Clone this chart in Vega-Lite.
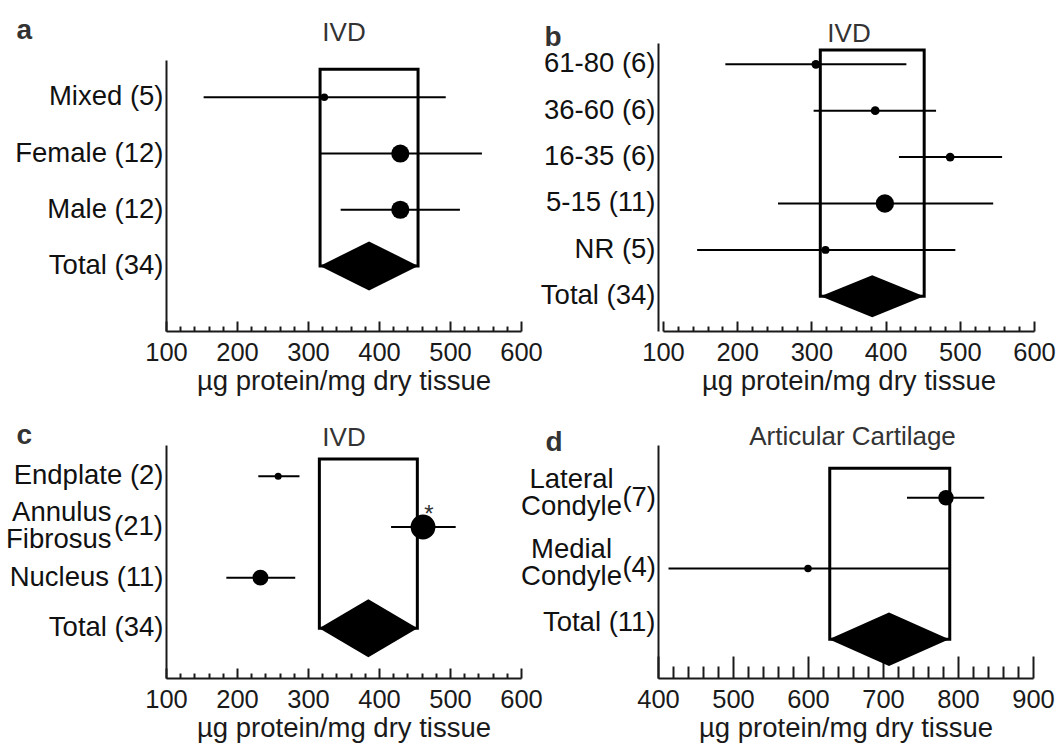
{
  "$schema": "https://vega.github.io/schema/vega-lite/v6.json",
  "autosize": "none",
  "padding": {"left": 166, "top": 43, "right": 895, "bottom": 700},
  "background": "white",
  "config": {
    "view": {"stroke": null},
    "font": "Liberation Sans",
    "axis": {
      "labelFont": "Liberation Sans",
      "titleFont": "Liberation Sans",
      "domainColor": "#1a1a1a",
      "domainWidth": 2,
      "tickColor": "#1a1a1a",
      "tickWidth": 2,
      "grid": false,
      "labelColor": "#1a1a1a",
      "titleColor": "#333333",
      "titleFontWeight": "normal"
    }
  },
  "datasets": {
    "rows": [
      {"panel": "a", "kind": "group", "label": "Mixed (5)", "mean": 323, "lo": 153, "hi": 494, "weight": 8},
      {"panel": "a", "kind": "group", "label": "Female (12)", "mean": 430, "lo": 317, "hi": 545, "weight": 47},
      {"panel": "a", "kind": "group", "label": "Male (12)", "mean": 430, "lo": 346, "hi": 514, "weight": 47},
      {"panel": "a", "kind": "total", "label": "Total (34)", "mean": 386, "lo": 317, "hi": 455},
      {"panel": "b", "kind": "group", "label": "61-80 (6)", "mean": 306, "lo": 184, "hi": 428, "weight": 11},
      {"panel": "b", "kind": "group", "label": "36-60 (6)", "mean": 386, "lo": 303, "hi": 468, "weight": 11},
      {"panel": "b", "kind": "group", "label": "16-35 (6)", "mean": 487, "lo": 418, "hi": 557, "weight": 11},
      {"panel": "b", "kind": "group", "label": "5-15 (11)", "mean": 399, "lo": 255, "hi": 545, "weight": 48},
      {"panel": "b", "kind": "group", "label": "NR (5)", "mean": 319, "lo": 146, "hi": 494, "weight": 9},
      {"panel": "b", "kind": "total", "label": "Total (34)", "mean": 382, "lo": 312, "hi": 452},
      {"panel": "c", "kind": "group", "label": "Endplate (2)", "mean": 258, "lo": 230, "hi": 288, "weight": 7},
      {"panel": "c", "kind": "group", "label": "Annulus\nFibrosus", "suffix": "(21)", "sig": "*", "mean": 462, "lo": 417, "hi": 508, "weight": 88},
      {"panel": "c", "kind": "group", "label": "Nucleus (11)", "mean": 233, "lo": 185, "hi": 282, "weight": 36},
      {"panel": "c", "kind": "total", "label": "Total (34)", "mean": 385, "lo": 316, "hi": 454},
      {"panel": "d", "kind": "group", "label": "Lateral\nCondyle", "suffix": "(7)", "mean": 784, "lo": 732, "hi": 835, "weight": 34},
      {"panel": "d", "kind": "group", "label": "Medial\nCondyle", "suffix": "(4)", "mean": 600, "lo": 414, "hi": 788, "weight": 8},
      {"panel": "d", "kind": "total", "label": "Total (11)", "mean": 708, "lo": 629, "hi": 789}
    ]
  },
  "columns": 2,
  "bounds": "flush",
  "align": "each",
  "spacing": {"row": 114, "column": 137},
  "concat": [
    {
      "width": 355,
      "height": 288,
      "data": {"name": "rows"},
      "transform": [{"filter": "datum.panel === 'a'"}],
      "encoding": {
        "y": {
          "field": "label", "type": "nominal",
          "scale": {"type": "band", "domain": ["Mixed (5)", "Female (12)", "Male (12)", "Total (34)"], "range": [17, 288], "paddingInner": 0, "paddingOuter": 0.411, "align": 0.2},
          "axis": {"ticks": false, "tickSize": 0, "labelPadding": 3, "labelFontSize": 27.5, "labelColor": "#111111", "labelLimit": 400,
                   "title": "a", "titleAngle": 0, "titleAlign": "left", "titleBaseline": "alphabetic", "titleX": -150, "titleY": -5, "titleFontSize": 28, "titleFontWeight": "bold", "titleColor": "#333333"}
        }
      },
      "layer": [
        {
          "transform": [{"filter": "datum.kind === 'group'"}],
          "mark": {"type": "rule", "color": "black", "strokeWidth": 2},
          "encoding": {
            "x": {"field": "lo", "type": "quantitative", "scale": {"domain": [100, 600], "nice": false, "zero": false},
                  "axis": {"orient": "bottom", "values": [100,120,140,160,180,200,220,240,260,280,300,320,340,360,380,400,420,440,460,480,500,520,540,560,580,600],
                           "labelExpr": "datum.value % 100 === 0 ? datum.label : ''",
                           "tickSize": {"condition": {"test": "datum.value % 100 === 0", "value": -10}, "value": -5},
                           "labelFontSize": 25.5, "labelPadding": 19, "labelOverlap": false, "labelFlush": false,
                           "title": "µg protein/mg dry tissue", "titleFontSize": 27.5, "titlePadding": -3, "titleColor": "#1a1a1a"}},
            "x2": {"field": "hi"}
          }
        },
        {
          "transform": [{"filter": "datum.kind === 'total'"}],
          "mark": {"type": "rect", "filled": false, "color": "black", "strokeWidth": 3},
          "encoding": {
            "x": {"field": "lo", "type": "quantitative",
                  "axis": {"orient": "top", "domain": false, "ticks": false, "labels": false, "title": "IVD", "titleFontSize": 26, "titleBaseline": "alphabetic", "titlePadding": 3, "titleColor": "#333333"}},
            "x2": {"field": "hi"},
            "y": {"datum": "Mixed (5)", "type": "nominal", "bandPosition": 0},
            "y2": {"field": "label"}
          }
        },
        {
          "transform": [{"filter": "datum.kind === 'total'"}],
          "mark": {"type": "point", "shape": "M-1,0L0,-0.498L1,0L0,0.498Z", "size": 9663, "filled": true, "color": "black", "opacity": 1, "strokeWidth": 0},
          "encoding": {"x": {"field": "mean", "type": "quantitative", "axis": null}}
        },
        {
          "transform": [{"filter": "datum.kind === 'group'"}],
          "mark": {"type": "circle", "color": "black", "opacity": 1},
          "encoding": {
            "x": {"field": "mean", "type": "quantitative", "axis": null},
            "size": {"field": "weight", "type": "quantitative", "scale": {"domain": [0, 100], "range": [0, 700]}, "legend": null}
          }
        }
      ],
      "resolve": {"axis": {"x": "independent"}}
    },
    {
      "width": 376,
      "height": 288,
      "data": {"name": "rows"},
      "transform": [{"filter": "datum.panel === 'b'"}],
      "encoding": {
        "y": {
          "field": "label", "type": "nominal",
          "scale": {"type": "band", "domain": ["61-80 (6)", "36-60 (6)", "16-35 (6)", "5-15 (11)", "NR (5)", "Total (34)"], "paddingInner": 0.384, "paddingOuter": 0.2955, "align": 0.255},
          "axis": {"ticks": false, "tickSize": 0, "labelPadding": 3, "labelFontSize": 27.5, "labelColor": "#111111", "labelLimit": 400,
                   "title": "b", "titleAngle": 0, "titleAlign": "left", "titleBaseline": "alphabetic", "titleX": -114, "titleY": 2, "titleFontSize": 28, "titleFontWeight": "bold", "titleColor": "#333333"}
        }
      },
      "layer": [
        {
          "transform": [{"filter": "datum.kind === 'group'"}],
          "mark": {"type": "rule", "color": "black", "strokeWidth": 2},
          "encoding": {
            "x": {"field": "lo", "type": "quantitative", "scale": {"domain": [100, 600], "range": [5, 376], "nice": false, "zero": false},
                  "axis": {"orient": "bottom", "values": [100,120,140,160,180,200,220,240,260,280,300,320,340,360,380,400,420,440,460,480,500,520,540,560,580,600],
                           "labelExpr": "datum.value % 100 === 0 ? datum.label : ''",
                           "tickSize": {"condition": {"test": "datum.value % 100 === 0", "value": -10}, "value": -5},
                           "labelFontSize": 25.5, "labelPadding": 19, "labelOverlap": false, "labelFlush": false,
                           "title": "µg protein/mg dry tissue", "titleFontSize": 27.5, "titlePadding": -3, "titleColor": "#1a1a1a"}},
            "x2": {"field": "hi"}
          }
        },
        {
          "transform": [{"filter": "datum.kind === 'total'"}],
          "mark": {"type": "rect", "filled": false, "color": "black", "strokeWidth": 3},
          "encoding": {
            "x": {"field": "lo", "type": "quantitative",
                  "axis": {"orient": "top", "domain": false, "ticks": false, "labels": false, "title": "IVD", "titleFontSize": 26, "titleBaseline": "alphabetic", "titlePadding": 2, "titleColor": "#333333"}},
            "x2": {"field": "hi"},
            "y": {"datum": "61-80 (6)", "type": "nominal", "bandPosition": 0},
            "y2": {"field": "label"}
          }
        },
        {
          "transform": [{"filter": "datum.kind === 'total'"}],
          "mark": {"type": "point", "shape": "M-1,0L0,-0.407L1,0L0,0.407Z", "size": 10671, "filled": true, "color": "black", "opacity": 1, "strokeWidth": 0},
          "encoding": {"x": {"field": "mean", "type": "quantitative", "axis": null}}
        },
        {
          "transform": [{"filter": "datum.kind === 'group'"}],
          "mark": {"type": "circle", "color": "black", "opacity": 1},
          "encoding": {
            "x": {"field": "mean", "type": "quantitative", "axis": null},
            "size": {"field": "weight", "type": "quantitative", "scale": {"domain": [0, 100], "range": [0, 700]}, "legend": null}
          }
        }
      ],
      "resolve": {"axis": {"x": "independent"}}
    },
    {
      "width": 355,
      "height": 233,
      "data": {"name": "rows"},
      "transform": [{"filter": "datum.panel === 'c'"}],
      "encoding": {
        "y": {
          "field": "label", "type": "nominal",
          "scale": {"type": "band", "domain": ["Endplate (2)", "Annulus\nFibrosus", "Nucleus (11)", "Total (34)"], "paddingInner": 0.317, "paddingOuter": 0.4575, "align": 0.302},
          "axis": {"ticks": false, "tickSize": 0,
                   "labelExpr": "split(datum.label, '\\n')", "labelLineHeight": 27,
                   "labelPadding": {"condition": {"test": "indexof(datum.value, '\\n') >= 0", "value": 55}, "value": 3},
                   "labelOffset": {"condition": {"test": "indexof(datum.value, '\\n') >= 0", "value": -14}, "value": 0},
                   "labelFontSize": 27.5, "labelColor": "#111111", "labelLimit": 400,
                   "title": "c", "titleAngle": 0, "titleAlign": "left", "titleBaseline": "alphabetic", "titleX": -150, "titleY": -2, "titleFontSize": 28, "titleFontWeight": "bold", "titleColor": "#333333"}
        }
      },
      "layer": [
        {
          "transform": [{"filter": "datum.kind === 'group'"}],
          "mark": {"type": "rule", "color": "black", "strokeWidth": 2},
          "encoding": {
            "x": {"field": "lo", "type": "quantitative", "scale": {"domain": [100, 600], "nice": false, "zero": false},
                  "axis": {"orient": "bottom", "values": [100,120,140,160,180,200,220,240,260,280,300,320,340,360,380,400,420,440,460,480,500,520,540,560,580,600],
                           "labelExpr": "datum.value % 100 === 0 ? datum.label : ''",
                           "tickSize": {"condition": {"test": "datum.value % 100 === 0", "value": -10}, "value": -5},
                           "labelFontSize": 25.5, "labelPadding": 19, "labelOverlap": false, "labelFlush": false,
                           "title": "µg protein/mg dry tissue", "titleFontSize": 27.5, "titlePadding": -3, "titleColor": "#1a1a1a"}},
            "x2": {"field": "hi"}
          }
        },
        {
          "transform": [{"filter": "datum.kind === 'total'"}],
          "mark": {"type": "rect", "filled": false, "color": "black", "strokeWidth": 3},
          "encoding": {
            "x": {"field": "lo", "type": "quantitative",
                  "axis": {"orient": "top", "domain": false, "ticks": false, "labels": false, "title": "IVD", "titleFontSize": 26, "titleBaseline": "alphabetic", "titlePadding": 0, "titleColor": "#333333"}},
            "x2": {"field": "hi"},
            "y": {"datum": "Endplate (2)", "type": "nominal", "bandPosition": 0},
            "y2": {"field": "label"}
          }
        },
        {
          "transform": [{"filter": "datum.kind === 'total'"}],
          "mark": {"type": "point", "shape": "M-1,0L0,-0.589L1,0L0,0.589Z", "size": 9683, "filled": true, "color": "black", "opacity": 1, "strokeWidth": 0},
          "encoding": {"x": {"field": "mean", "type": "quantitative", "axis": null}}
        },
        {
          "transform": [{"filter": "datum.kind === 'group'"}],
          "mark": {"type": "circle", "color": "black", "opacity": 1},
          "encoding": {
            "x": {"field": "mean", "type": "quantitative", "axis": null},
            "size": {"field": "weight", "type": "quantitative", "scale": {"domain": [0, 100], "range": [0, 700]}, "legend": null}
          }
        },
        {
          "transform": [{"filter": "datum.suffix"}],
          "mark": {"type": "text", "align": "right", "baseline": "middle", "dx": -3, "fontSize": 27.5, "color": "#111111"},
          "encoding": {
            "x": {"datum": 100, "type": "quantitative", "axis": null},
            "text": {"field": "suffix"}
          }
        },
        {
          "transform": [{"filter": "datum.sig"}],
          "mark": {"type": "text", "align": "center", "baseline": "middle", "dx": 6, "dy": -12, "fontSize": 24, "color": "#333333"},
          "encoding": {
            "x": {"field": "mean", "type": "quantitative", "axis": null},
            "text": {"field": "sig"}
          }
        }
      ],
      "resolve": {"axis": {"x": "independent"}}
    },
    {
      "width": 375,
      "height": 233,
      "data": {"name": "rows"},
      "transform": [{"filter": "datum.panel === 'd'"}],
      "encoding": {
        "y": {
          "field": "label", "type": "nominal",
          "scale": {"type": "band", "domain": ["Lateral\nCondyle", "Medial\nCondyle", "Total (11)"], "paddingInner": 0.169, "paddingOuter": 0.231, "align": 0.713},
          "axis": {"ticks": false, "tickSize": 0,
                   "labelExpr": "split(datum.label, '\\n')", "labelLineHeight": 27,
                   "labelAlign": {"condition": {"test": "datum.value === 'Total (11)'", "value": "right"}, "value": "center"},
                   "labelPadding": {"condition": {"test": "datum.value === 'Total (11)'", "value": 3}, "value": 87},
                   "labelOffset": {"condition": {"test": "datum.value === 'Total (11)'", "value": -16}, "value": -18},
                   "labelFontSize": 27.5, "labelColor": "#111111", "labelLimit": 400,
                   "title": "d", "titleAngle": 0, "titleAlign": "left", "titleBaseline": "alphabetic", "titleX": -113, "titleY": 5, "titleFontSize": 28, "titleFontWeight": "bold", "titleColor": "#333333"}
        }
      },
      "layer": [
        {
          "transform": [{"filter": "datum.kind === 'group'"}],
          "mark": {"type": "rule", "color": "black", "strokeWidth": 2},
          "encoding": {
            "x": {"field": "lo", "type": "quantitative", "scale": {"domain": [400, 900], "nice": false, "zero": false},
                  "axis": {"orient": "bottom", "values": [400,420,440,460,480,500,520,540,560,580,600,620,640,660,680,700,720,740,760,780,800,820,840,860,880,900],
                           "labelExpr": "datum.value % 100 === 0 ? datum.label : ''",
                           "tickSize": {"condition": {"test": "datum.value % 100 === 0", "value": -22}, "value": -12},
                           "labelFontSize": 25.5, "labelPadding": 31, "labelOverlap": false, "labelFlush": false,
                           "title": "µg protein/mg dry tissue", "titleFontSize": 27.5, "titlePadding": -8, "titleColor": "#1a1a1a"}},
            "x2": {"field": "hi"}
          }
        },
        {
          "transform": [{"filter": "datum.kind === 'total'"}],
          "mark": {"type": "rect", "filled": false, "color": "black", "strokeWidth": 3},
          "encoding": {
            "x": {"field": "lo", "type": "quantitative",
                  "axis": {"orient": "top", "domain": false, "ticks": false, "labels": false, "title": "Articular Cartilage", "titleFontSize": 26, "titleBaseline": "alphabetic", "titlePadding": 1, "titleX": 194, "titleColor": "#333333"}},
            "x2": {"field": "hi"},
            "y": {"datum": "Lateral\nCondyle", "type": "nominal", "bandPosition": 0},
            "y2": {"field": "label"}
          }
        },
        {
          "transform": [{"filter": "datum.kind === 'total'"}],
          "mark": {"type": "point", "shape": "M-1,0L0,-0.446L1,0L0,0.446Z", "size": 14448, "filled": true, "color": "black", "opacity": 1, "strokeWidth": 0},
          "encoding": {"x": {"field": "mean", "type": "quantitative", "axis": null}}
        },
        {
          "transform": [{"filter": "datum.kind === 'group'"}],
          "mark": {"type": "circle", "color": "black", "opacity": 1},
          "encoding": {
            "x": {"field": "mean", "type": "quantitative", "axis": null},
            "size": {"field": "weight", "type": "quantitative", "scale": {"domain": [0, 100], "range": [0, 700]}, "legend": null}
          }
        },
        {
          "transform": [{"filter": "datum.suffix"}],
          "mark": {"type": "text", "align": "right", "baseline": "middle", "dx": -2, "fontSize": 27.5, "color": "#111111"},
          "encoding": {
            "x": {"datum": 400, "type": "quantitative", "axis": null},
            "text": {"field": "suffix"}
          }
        }
      ],
      "resolve": {"axis": {"x": "independent"}}
    }
  ]
}
